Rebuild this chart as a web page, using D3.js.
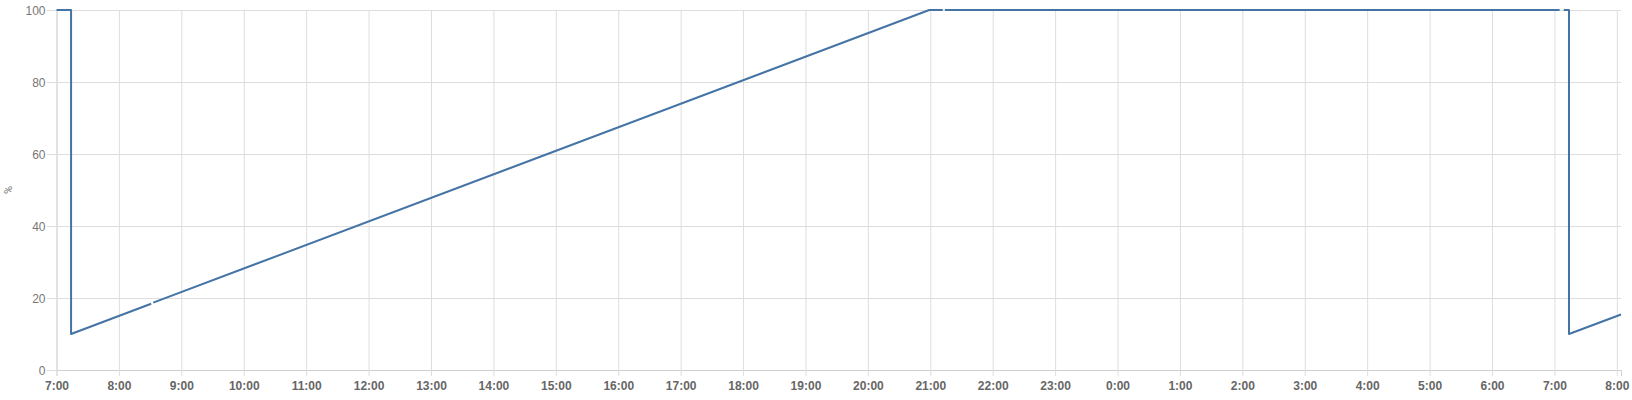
<!DOCTYPE html>
<html>
<head>
<meta charset="utf-8">
<script src="https://cdn.jsdelivr.net/npm/d3@7"></script>
<style>
html,body{margin:0;padding:0;background:#fff;}
svg{display:block;font-family:Roboto,"Noto Sans",sans-serif;}
</style>
</head>
<body>
<svg id="chart" width="1632" height="400"></svg>
<script>
// Data (null = gap in the series)
const times = [
  "2024-01-01 07:00","2024-01-01 07:14","2024-01-01 07:14","2024-01-01 08:31", null,
  "2024-01-01 08:33","2024-01-01 20:59","2024-01-01 21:12", null,
  "2024-01-01 21:14","2024-01-02 07:05", null,
  "2024-01-02 07:09","2024-01-02 07:14","2024-01-02 07:14","2024-01-02 08:04"
];
const values = [
  100, 100, 10, 18.4, null,
  18.7, 100, 100, null,
  100, 100, null,
  100, 100, 10, 15.4
];
const yTicks = [0, 20, 40, 60, 80, 100];
const yLabel = "%";
const domainStart = "2024-01-01 07:00";
const domainEnd = "2024-01-02 08:04";

const parse = d3.timeParse("%Y-%m-%d %H:%M");
const data = times.map((t, i) => ({t: t ? parse(t) : null, v: values[i]}));

const W = 1632, H = 400;
const m = {top: 10, right: 11, bottom: 30, left: 56.5};
const svg = d3.select("#chart");

const x = d3.scaleTime().domain([parse(domainStart), parse(domainEnd)]).range([m.left, W - m.right]);
const y = d3.scaleLinear().domain([0, 100]).range([H - m.bottom, m.top]);

const gridColor = "#dedede";

// horizontal grid + y axis
const yAxis = svg.append("g").attr("transform", `translate(${m.left},0)`)
  .call(d3.axisLeft(y).tickValues(yTicks).tickSize(10).tickPadding(2).tickFormat(d3.format("d")));
yAxis.select(".domain").attr("stroke", "#cfcfcf");
yAxis.selectAll(".tick line").attr("stroke", gridColor).attr("x2", W - m.right - m.left).attr("x1", -10);
yAxis.selectAll(".tick text").attr("fill", "#777").attr("font-size", 12).attr("dy", "0.35em").attr("x", -11);

// vertical grid + x axis
const xTicks = d3.timeHour.every(1).range(parse(domainStart), d3.timeMinute.offset(parse(domainEnd), 1));
const xAxis = svg.append("g").attr("transform", `translate(0,${H - m.bottom})`)
  .call(d3.axisBottom(x).tickValues(xTicks).tickSize(6).tickPadding(5).tickFormat(d3.timeFormat("%-H:%M")));
xAxis.select(".domain").attr("stroke", "#cfcfcf");
xAxis.selectAll(".tick line").attr("stroke", gridColor).attr("y1", -(H - m.bottom - m.top)).attr("y2", 6);
xAxis.selectAll(".tick text").attr("fill", "#666").attr("font-size", 12).attr("font-weight", "bold");

// y label
svg.append("text").attr("transform", `translate(12,${(m.top + H - m.bottom) / 2}) rotate(-90)`)
  .attr("text-anchor", "middle").attr("fill", "#777").attr("font-size", 11).text(yLabel);

// line
const line = d3.line()
  .defined(d => d.t !== null && d.v !== null)
  .x(d => x(d.t)).y(d => y(d.v));
svg.append("path").datum(data)
  .attr("fill", "none").attr("stroke", "#4474a5").attr("stroke-width", 2)
  .attr("stroke-linejoin", "round").attr("d", line);
</script>
</body>
</html>
